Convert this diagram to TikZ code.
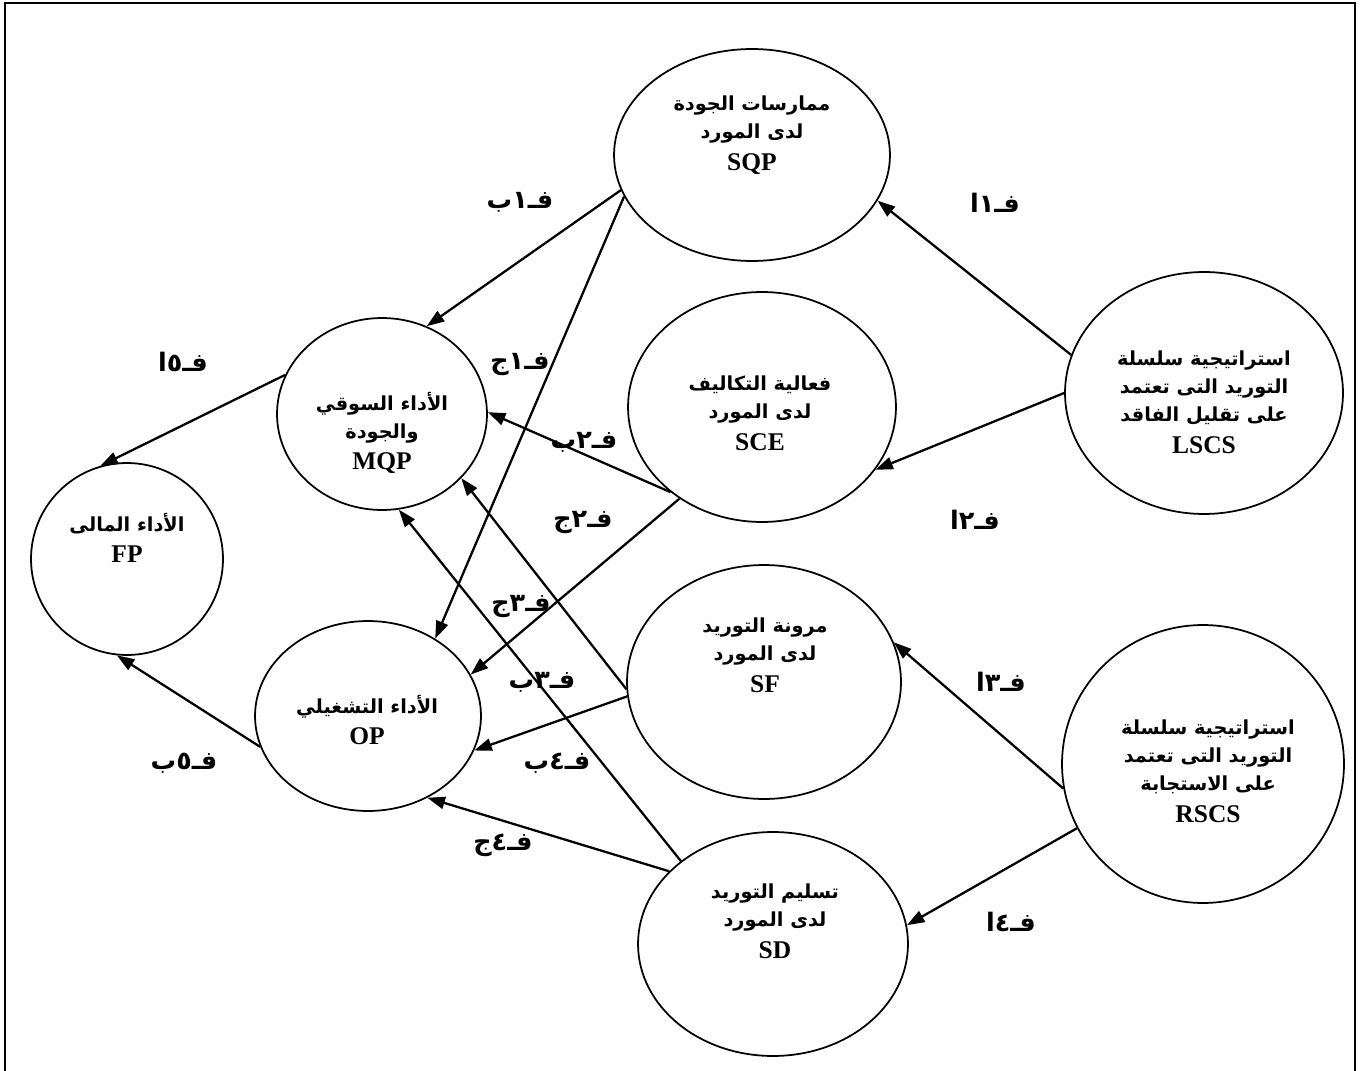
\documentclass[tikz,border=0pt]{standalone}
\usepackage{fontspec}
\setmainfont{Liberation Serif}
\newfontfamily\arabicfont[Script=Arabic]{DejaVu Sans}
\TeXXeTstate=1
\usetikzlibrary{shapes.geometric,arrows.meta}

\newcommand{\artxt}[1]{{\arabicfont\beginR #1\endR}}
\newcommand{\lat}[1]{{\fontsize{14.5}{16}\selectfont #1}}

\begin{document}
\begin{tikzpicture}[x=0.02cm, y=-0.02cm,
  blob/.style={ellipse, draw, line width=1pt, inner sep=0pt},
  inside/.style={align=center, font=\bfseries\fontsize{11}{16}\selectfont},
  hyp/.style={font=\bfseries\fontsize{14.5}{16}\selectfont},
  link/.style={line width=1.3pt, -{Triangle[length=10pt,width=7pt]}}]

  \useasboundingbox (0,0) rectangle (1363,1071);

  % frame
  \draw[line width=1.2pt] (5,1075) -- (5,3) -- (1355,3) -- (1355,1075);

  % the constructs
  \node[blob, minimum width=5.52cm, minimum height=4.24cm] (SQP) at (752,155) {};
  \node[blob, minimum width=5.36cm, minimum height=4.60cm] (SCE) at (762,407) {};
  \node[blob, minimum width=5.56cm, minimum height=4.84cm] (LSCS) at (1204,393) {};
  \node[blob, minimum width=5.48cm, minimum height=4.68cm] (SF) at (764,682) {};
  \node[blob, minimum width=5.64cm, minimum height=5.56cm] (RSCS) at (1203,764) {};
  \node[blob, minimum width=5.40cm, minimum height=4.48cm] (SD) at (773,944) {};
  \node[blob, minimum width=4.20cm, minimum height=3.84cm] (MQP) at (382,414) {};
  \node[blob, minimum width=4.52cm, minimum height=3.80cm] (OP) at (368,716) {};
  \node[blob, minimum width=3.84cm, minimum height=3.84cm] (FP) at (127,559) {};

  % their texts
  \node[inside] (SQPtext) at (752,135) {\artxt{ممارسات الجودة}\\\artxt{لدى المورد}\\[2pt]\lat{SQP}};
  \node[inside] (SCEtext) at (760,413) {\artxt{فعالية التكاليف}\\\artxt{لدى المورد}\\[2pt]\lat{SCE}};
  \node[inside] (LSCStext) at (1204,402) {\artxt{استراتيجية سلسلة}\\\artxt{التوريد التى تعتمد}\\\artxt{على تقليل الفاقد}\\[2pt]\lat{LSCS}};
  \node[inside] (SFtext) at (765,655) {\artxt{مرونة التوريد}\\\artxt{لدى المورد}\\[2pt]\lat{SF}};
  \node[inside] (RSCStext) at (1208,771) {\artxt{استراتيجية سلسلة}\\\artxt{التوريد التى تعتمد}\\\artxt{على الاستجابة}\\[2pt]\lat{RSCS}};
  \node[inside] (SDtext) at (775,921) {\artxt{تسليم التوريد}\\\artxt{لدى المورد}\\[2pt]\lat{SD}};
  \node[inside] (MQPtext) at (382,433) {\artxt{الأداء السوقي}\\\artxt{والجودة}\\[2pt]\lat{MQP}};
  \node[inside] (OPtext) at (367,720) {\artxt{الأداء التشغيلي}\\[2pt]\lat{OP}};
  \node[inside] (FPtext) at (127,538) {\artxt{الأداء المالى}\\[2pt]\lat{FP}};

  % paths
  \draw[link] (LSCS.164) -- (SQP.340);
  \draw[link] (LSCS.180) -- (SCE.331);
  \draw[link] (RSCS.190) -- (SF.17);
  \draw[link] (RSCS.207) -- (SD.8);
  \draw[link] (SQP.195) -- (MQP.63);
  \draw[link] (SQP.198) -- (OP.49);
  \draw[link] (SCE.223) -- (MQP.1);
  \draw[link] (SCE.228) -- (OP.22);
  \draw[link] (SF.183) -- (MQP.321);
  \draw[link] (SF.186) -- (OP.342);
  \draw[link] (SD.138) -- (MQP.280);
  \draw[link] (SD.145) -- (OP.306);
  \draw[link] (MQP.158) -- (FP.106);
  \draw[link] (OP.196) -- (FP.264);

  % hypothesis labels
  \node[hyp] (h1a) at (995,203) {\artxt{فـ١ا}};
  \node[hyp] (h2a) at (975,520) {\artxt{فـ٢ا}};
  \node[hyp] (h3a) at (1001,682) {\artxt{فـ٣ا}};
  \node[hyp] (h4a) at (1011,922) {\artxt{فـ٤ا}};
  \node[hyp] (h1b) at (520,202) {\artxt{فـ١ب}};
  \node[hyp] (h1c) at (520,365) {\artxt{فـ١ج}};
  \node[hyp] (h2b) at (584,442) {\artxt{فـ٢ب}};
  \node[hyp] (h2c) at (583,523) {\artxt{فـ٢ج}};
  \node[hyp] (h3c) at (521,607) {\artxt{فـ٣ج}};
  \node[hyp] (h3b) at (542,682) {\artxt{فـ٣ب}};
  \node[hyp] (h4b) at (557,763) {\artxt{فـ٤ب}};
  \node[hyp] (h4c) at (503,845) {\artxt{فـ٤ج}};
  \node[hyp] (h5a) at (183,362) {\artxt{فـ٥ا}};
  \node[hyp] (h5b) at (184,763) {\artxt{فـ٥ب}};

\end{tikzpicture}
\end{document}
